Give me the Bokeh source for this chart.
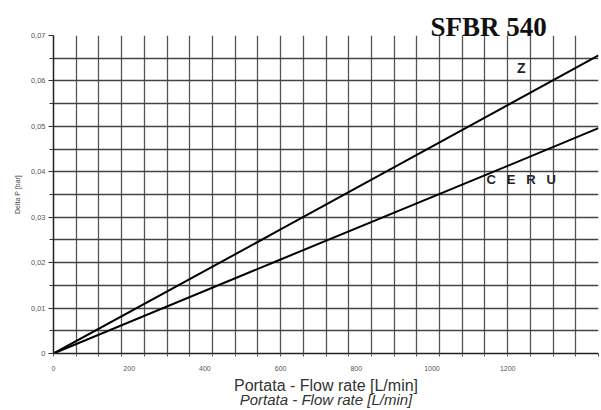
from bokeh.plotting import figure
from bokeh.models import Range1d, FixedTicker, SingleIntervalTicker, Label, LinearAxis
from bokeh.embed import file_html
from bokeh.resources import INLINE

# Data
flow = [0, 600, 1200, 1440]
dp_z = [0, 0.0273, 0.0547, 0.0656]
dp_ceru = [0, 0.0207, 0.0413, 0.0496]

x_ticks = [0, 200, 400, 600, 800, 1000, 1200]
y_ticks = [0, 0.01, 0.02, 0.03, 0.04, 0.05, 0.06, 0.07]
y_tick_labels = ["0", "0,01", "0,02", "0,03", "0,04", "0,05", "0,06", "0,07"]

title_text = "SFBR 540"
x_title = "Portata - Flow rate [L/min]"
y_title = "Delta P [bar]"
NB = "\u00a0\u00a0\u00a0"
series_names = ["Z", "C" + NB + "E" + NB + "R" + NB + "U"]

p = figure(width=601, height=410, output_backend="svg", toolbar_location=None,
           x_range=Range1d(0, 1440), y_range=Range1d(0, 0.07),
           min_border_left=53, min_border_right=3, min_border_top=35, min_border_bottom=57)
p.outline_line_color = None
p.background_fill_color = "white"

p.title.text = title_text
p.title.align = "left"
p.title.offset = 377
p.title.standoff = -13
p.title.text_font = "Liberation Serif"
p.title.text_font_style = "bold"
p.title.text_font_size = "27px"
p.title.text_color = "#111111"

# grids
p.xgrid[0].ticker = SingleIntervalTicker(interval=60)
p.ygrid[0].ticker = SingleIntervalTicker(interval=0.005)
p.xgrid[0].grid_line_color = "#555555"
p.ygrid[0].grid_line_color = "#444444"
p.xgrid[0].grid_line_width = 1.3
p.ygrid[0].grid_line_width = 1.3

# x axis
xa = p.xaxis[0]
xa.ticker = FixedTicker(ticks=x_ticks, minor_ticks=[i * 60 for i in range(25)])
xa.major_tick_in = 0
xa.major_tick_out = 0
xa.minor_tick_in = 0
xa.minor_tick_out = 3
xa.minor_tick_line_color = "#555555"
xa.axis_line_color = "#222222"
xa.axis_line_width = 1.5
xa.major_label_text_font = "Liberation Sans"
xa.major_label_text_font_size = "7px"
xa.major_label_text_color = "#555555"
xa.major_label_standoff = 9
xa.axis_label = x_title
xa.axis_label_text_font = "Liberation Sans"
xa.axis_label_text_font_style = "normal"
xa.axis_label_text_font_size = "16px"
xa.axis_label_text_color = "#333333"
xa.axis_label_standoff = 3

xa2 = LinearAxis(ticker=FixedTicker(ticks=[]), axis_line_color=None,
                 major_tick_out=0, minor_tick_out=0, major_tick_in=0, minor_tick_in=0,
                 major_label_text_font_size="0px", major_label_standoff=0,
                 axis_label=x_title, axis_label_text_font="Liberation Sans",
                 axis_label_text_font_style="italic", axis_label_text_font_size="15px",
                 axis_label_text_color="#333333", axis_label_standoff=-6)
p.add_layout(xa2, "below")

# y axis
ya = p.yaxis[0]
ya.ticker = FixedTicker(ticks=y_ticks, minor_ticks=[i * 0.005 for i in range(15)])
ya.major_label_overrides = {t: l for t, l in zip(y_ticks, y_tick_labels)}
ya.major_tick_in = 0
ya.major_tick_out = 5
ya.minor_tick_in = 0
ya.minor_tick_out = 4
ya.major_tick_line_color = "#333333"
ya.minor_tick_line_color = "#333333"
ya.axis_line_color = "#222222"
ya.axis_line_width = 1.5
ya.major_label_text_font = "Liberation Sans"
ya.major_label_text_font_size = "7.5px"
ya.major_label_text_color = "#555555"
ya.major_label_standoff = 3
ya.axis_label = y_title
ya.axis_label_text_font = "Liberation Sans"
ya.axis_label_text_font_style = "normal"
ya.axis_label_text_font_size = "7px"
ya.axis_label_text_color = "#444444"
ya.axis_label_standoff = 7

# lines
p.line(flow, dp_z, line_color="black", line_width=2)
p.line(flow, dp_ceru, line_color="black", line_width=2)

p.add_layout(Label(x=1236, y=0.0628, text=series_names[0], text_font="Liberation Sans",
                   text_font_style="bold", text_font_size="14px", text_color="#222222",
                   text_align="center", text_baseline="middle"))
p.add_layout(Label(x=1236, y=0.0383, text=series_names[1], text_font="Liberation Sans",
                   text_font_style="bold", text_font_size="13px", text_color="#222222",
                   text_align="center", text_baseline="middle"))

open("out.html", "w").write(file_html(p, INLINE))
